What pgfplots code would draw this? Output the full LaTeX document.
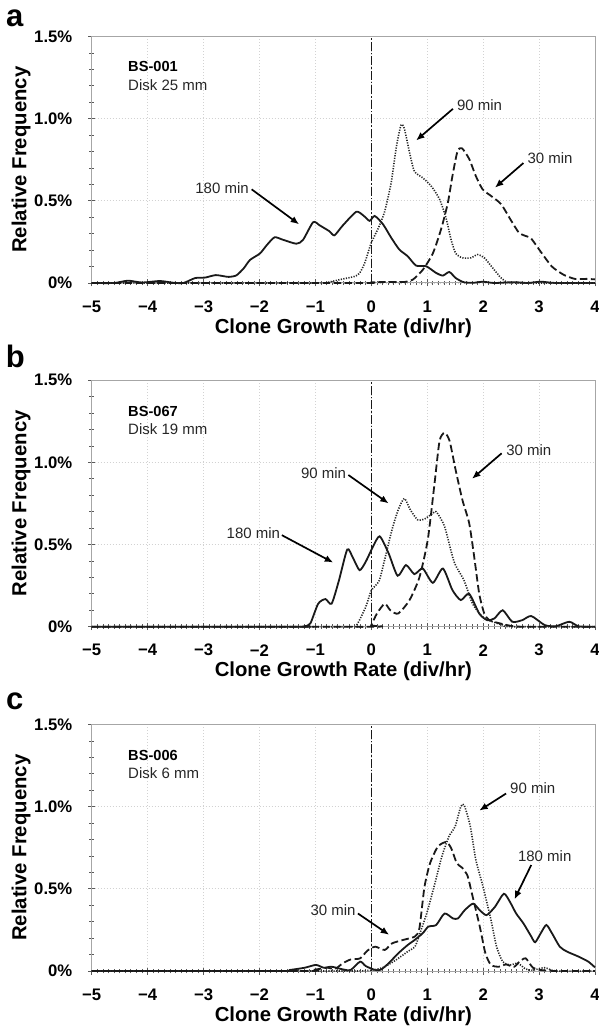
\documentclass[border=0pt]{standalone}
\usepackage{fontspec}
\setmainfont{Liberation Sans}
\usepackage{pgfplots}
\usepackage{pgfplotstable}
\pgfplotsset{compat=1.18}
\usetikzlibrary{arrows.meta}

% ---------- BS-001, disk 25 mm ----------
\pgfplotstableread{
x y
-5.0 0.0
-4.6 0.0
-4.35 0.014
-4.1 0.003
-3.78 0.012
-3.55 0.002
-3.36 0.0
-3.15 0.030
-2.97 0.033
-2.78 0.048
-2.55 0.037
-2.41 0.047
-2.28 0.09
-2.17 0.14
-1.99 0.18
-1.87 0.23
-1.73 0.278
-1.58 0.263
-1.34 0.239
-1.22 0.263
-1.04 0.37
-0.92 0.35
-0.75 0.315
-0.66 0.29
-0.51 0.35
-0.27 0.433
-0.14 0.41
-0.03 0.378
0.06 0.408
0.21 0.357
0.355 0.276
0.50 0.204
0.65 0.163
0.80 0.106
0.98 0.102
1.16 0.061
1.28 0.045
1.395 0.067
1.51 0.03
1.66 0.004
1.85 0.002
1.99 0.008
2.2 0.0
2.55 0.005
2.8 0.0
3.03 0.008
3.3 0.0
4.0 0.0
}\aOneEighty
\pgfplotstableread{
x y
-5 0
-1.0 0
-0.78 0.004
-0.57 0.02
-0.30 0.04
-0.21 0.06
-0.12 0.12
0.0 0.245
0.116 0.327
0.235 0.43
0.355 0.61
0.444 0.82
0.53 0.96
0.59 0.94
0.68 0.80
0.77 0.68
0.92 0.64
1.07 0.59
1.22 0.51
1.34 0.39
1.425 0.265
1.51 0.18
1.63 0.153
1.78 0.153
1.90 0.173
2.02 0.153
2.17 0.092
2.32 0.031
2.44 0.003
2.7 0.0
4 0
}\aNinety
\pgfplotstableread{
x y
-5 0
-0.2 0
0.0 0.004
0.3 0.006
0.59 0.006
0.74 0.02
0.92 0.08
1.10 0.18
1.25 0.33
1.37 0.49
1.45 0.65
1.54 0.80
1.62 0.82
1.75 0.755
1.87 0.65
1.99 0.57
2.14 0.53
2.32 0.48
2.50 0.38
2.64 0.306
2.76 0.286
2.86 0.27
3.03 0.19
3.23 0.10
3.44 0.05
3.64 0.025
3.85 0.025
4.0 0.022
}\aThirty

% ---------- BS-067, disk 19 mm ----------
\pgfplotstableread{
x y
-5 0
-1.3 0
-1.19 0.003
-1.09 0.02
-0.95 0.14
-0.82 0.168
-0.71 0.14
-0.58 0.28
-0.43 0.47
-0.33 0.42
-0.21 0.344
-0.10 0.395
0.03 0.487
0.15 0.55
0.31 0.446
0.47 0.31
0.62 0.375
0.77 0.32
0.92 0.354
1.10 0.267
1.28 0.354
1.45 0.223
1.60 0.162
1.75 0.20
1.93 0.08
2.07 0.04
2.20 0.05
2.35 0.10
2.52 0.03
2.70 0.04
2.86 0.065
3.10 0.01
3.30 0.003
3.54 0.03
3.71 0.002
4 0
}\bOneEighty
\pgfplotstableread{
x y
-5 0
-0.4 0
-0.27 0.006
-0.10 0.12
0.0 0.22
0.14 0.28
0.24 0.41
0.37 0.59
0.48 0.71
0.59 0.78
0.70 0.71
0.83 0.65
0.95 0.655
1.10 0.69
1.16 0.70
1.31 0.61
1.48 0.395
1.66 0.28
1.81 0.14
1.99 0.06
2.17 0.03
2.35 0.01
2.5 0
4 0
}\bNinety
\pgfplotstableread{
x y
-5 0
-0.05 0
0.0 0.01
0.10 0.08
0.24 0.14
0.34 0.10
0.48 0.08
0.68 0.16
0.86 0.30
1.01 0.53
1.13 0.87
1.22 1.13
1.31 1.18
1.40 1.13
1.51 0.95
1.63 0.77
1.75 0.63
1.84 0.425
1.93 0.20
2.02 0.08
2.11 0.04
2.3 0.02
2.5 0.005
2.7 0
4 0
}\bThirty

% ---------- BS-006, disk 6 mm ----------
\pgfplotstableread{
x y
-5 0
-1.6 0
-1.46 0.006
-1.19 0.02
-0.99 0.037
-0.85 0.02
-0.71 0.026
-0.51 0.01
-0.37 0.006
-0.20 0.057
-0.10 0.03
0.07 0.006
0.17 0.008
0.31 0.047
0.48 0.107
0.65 0.158
0.78 0.19
0.92 0.23
1.02 0.27
1.16 0.28
1.31 0.35
1.46 0.32
1.55 0.32
1.67 0.37
1.82 0.41
1.94 0.37
2.06 0.34
2.21 0.39
2.37 0.47
2.48 0.42
2.59 0.35
2.72 0.29
2.86 0.21
2.93 0.175
3.03 0.23
3.13 0.28
3.23 0.23
3.37 0.148
3.50 0.118
3.71 0.087
3.88 0.057
4.0 0.022
}\cOneEighty
\pgfplotstableread{
x y
-5 0
-0.5 0
-0.10 0.002
0.07 0.008
0.24 0.026
0.44 0.067
0.65 0.118
0.78 0.148
0.85 0.21
0.99 0.35
1.12 0.51
1.26 0.695
1.39 0.82
1.50 0.88
1.60 1.0
1.66 1.01
1.77 0.88
1.87 0.675
2.0 0.51
2.14 0.31
2.24 0.148
2.35 0.057
2.48 0.037
2.62 0.047
2.76 0.012
2.89 0.005
3.10 0.02
3.3 0
4 0
}\cNinety
\pgfplotstableread{
x y
-5 0
-1.2 0
-1.05 0.006
-0.78 0.02
-0.65 0.012
-0.51 0.047
-0.37 0.07
-0.20 0.077
-0.07 0.124
0.07 0.148
0.24 0.128
0.37 0.168
0.58 0.19
0.78 0.21
0.86 0.26
0.95 0.51
1.05 0.655
1.19 0.757
1.34 0.785
1.43 0.746
1.53 0.655
1.62 0.63
1.72 0.58
1.80 0.47
1.94 0.27
2.04 0.108
2.14 0.037
2.28 0.026
2.41 0.04
2.55 0.025
2.65 0.057
2.76 0.077
2.89 0.02
3.03 0.006
3.3 0
4 0
}\cThirty

\pgfplotsset{
  growth/.style={
    scale only axis, width=503.3pt, height=246.5pt,
    xmin=-5, xmax=4, ymin=0, ymax=1.5,
    xtick={-5,-4,-3,-2,-1,0,1,2,3,4},
    xticklabels={−5,−4,−3,−2,−1,0,1,2,3,4},
    ytick={0,0.5,1,1.5},
    yticklabels={0\%,0.5\%,1.0\%,1.5\%},
    minor x tick num=9, minor y tick num=4,
    xtick pos=bottom, ytick pos=left,
    tick align=center,
    major tick length=7pt, minor tick length=4.5pt,
    every tick/.style={gray!70!black, line width=0.7pt},
    axis line style={gray!70, line width=1pt},
    xmajorgrids, ymajorgrids,
    major grid style={dash pattern=on 1pt off 2pt, gray!35, line width=0.7pt},
    tick label style={font=\fontsize{16.7}{18}\selectfont\bfseries, inner sep=0pt},
    xticklabel style={anchor=center, yshift=-20pt},
    yticklabel style={anchor=east, xshift=-15.7pt},
    xlabel={Clone Growth Rate (div/hr)},
    ylabel={Relative Frequency},
    label style={font=\fontsize{20.3}{22}\selectfont\bfseries, inner sep=0pt},
    xlabel style={at={(axis description cs:0.5,-0.1826)}, anchor=center},
    ylabel style={at={(axis description cs:-0.1401,0.5)}, anchor=center},
    clip=false,
  },
}
\tikzset{
  min180/.style={black!90, line width=1.8pt, smooth, tension=0.4},
  min90/.style={black!85, line width=1.6pt, dash pattern=on 1.2pt off 1.4pt, smooth, tension=0.4},
  min30/.style={black!90, line width=1.8pt, dash pattern=on 7.5pt off 3.5pt, smooth, tension=0.4},
  zeroline/.style={black!90, line width=1.6pt, dash pattern=on 9pt off 2pt on 1.5pt off 2pt},
  note/.style={anchor=west, inner sep=0pt, text=black!85, font=\fontsize{15}{17}\selectfont},
  sample/.style={anchor=west, inner sep=0pt, font=\fontsize{14.6}{16}\selectfont\bfseries},
  pointer/.style={black, line width=1.7pt, -{Latex[length=8.5pt,width=7pt]}},
  panel/.style={anchor=base west, inner sep=0pt, font=\fontsize{31}{31}\selectfont\bfseries},
}

\begin{document}
\begin{tikzpicture}
\path[use as bounding box] (0pt,0pt) rectangle (598pt,1028pt);

% (a) BS-001
\begin{axis}[growth, at={(91.7pt,745pt)}, anchor=south west]
  \addplot[zeroline] coordinates {(0,0) (0,1.5)};
  \addplot[min180] table {\aOneEighty};
  \addplot[min90] table {\aNinety};
  \addplot[min30] table {\aThirty};
  \node[sample] at (axis cs:-4.35,1.316) {BS-001};
  \node[note] at (axis cs:-4.35,1.204) {Disk 25 mm};
  \node[note] at (axis cs:1.53,1.085) {90 min};
  \draw[pointer] (axis cs:1.46,1.06) -- (axis cs:0.80,0.867);
  \node[note] at (axis cs:2.79,0.757) {30 min};
  \draw[pointer] (axis cs:2.72,0.73) -- (axis cs:2.21,0.58);
  \node[note] at (axis cs:-3.15,0.58) {180 min};
  \draw[pointer] (axis cs:-2.14,0.57) -- (axis cs:-1.29,0.357);
\end{axis}

% (b) BS-067
\begin{axis}[growth, at={(91.7pt,401.3pt)}, anchor=south west]
  \addplot[zeroline] coordinates {(0,0) (0,1.5)};
  \addplot[min180] table {\bOneEighty};
  \addplot[min90] table {\bNinety};
  \addplot[min30] table {\bThirty};
  \node[sample] at (axis cs:-4.35,1.308) {BS-067};
  \node[note] at (axis cs:-4.35,1.20) {Disk 19 mm};
  \node[note] at (axis cs:2.41,1.075) {30 min};
  \draw[pointer] (axis cs:2.33,1.055) -- (axis cs:1.80,0.90);
  \node[note] at (axis cs:-1.26,0.937) {90 min};
  \draw[pointer] (axis cs:-0.41,0.923) -- (axis cs:0.31,0.75);
  \node[note] at (axis cs:-2.59,0.568) {180 min};
  \draw[pointer] (axis cs:-1.60,0.557) -- (axis cs:-0.68,0.39);
\end{axis}

% (c) BS-006
\begin{axis}[growth, at={(91.7pt,57pt)}, anchor=south west]
  \addplot[zeroline] coordinates {(0,0) (0,1.5)};
  \addplot[min180] table {\cOneEighty};
  \addplot[min90] table {\cNinety};
  \addplot[min30] table {\cThirty};
  \node[sample] at (axis cs:-4.35,1.314) {BS-006};
  \node[note] at (axis cs:-4.35,1.203) {Disk 6 mm};
  \node[note] at (axis cs:2.48,1.11) {90 min};
  \draw[pointer] (axis cs:2.41,1.08) -- (axis cs:1.93,0.976);
  \node[note] at (axis cs:2.62,0.696) {180 min};
  \draw[pointer] (axis cs:2.86,0.645) -- (axis cs:2.56,0.436);
  \node[note] at (axis cs:-1.09,0.37) {30 min};
  \draw[pointer] (axis cs:-0.24,0.35) -- (axis cs:0.32,0.22);
\end{axis}

% panel letters
\node[panel] at (6pt,1001pt) {a};
\node[panel] at (5.7pt,660pt) {b};
\node[panel] at (6pt,318pt) {c};
\end{tikzpicture}
\end{document}
